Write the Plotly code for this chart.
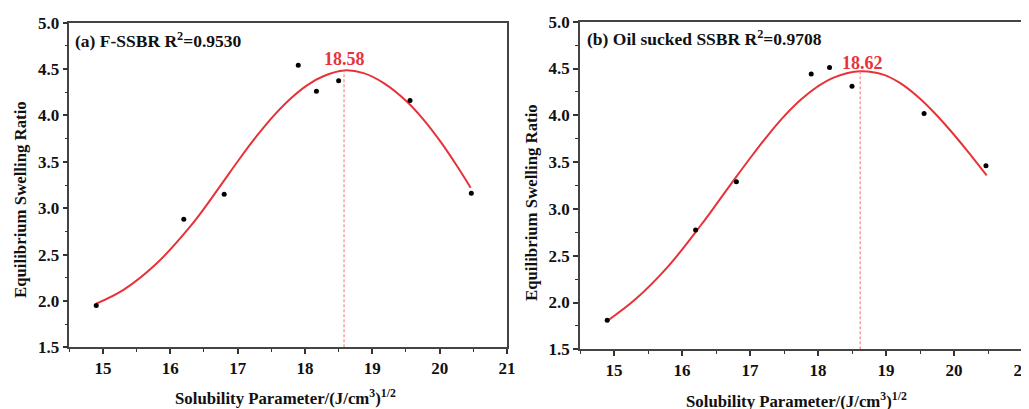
import plotly.graph_objects as go

# ---- data ----
x_pts = [14.90, 16.20, 16.80, 17.90, 18.17, 18.50, 19.56, 20.47]
y_a = [1.95, 2.88, 3.15, 4.54, 4.26, 4.375, 4.16, 3.16]
y_b = [1.81, 2.775, 3.29, 4.44, 4.51, 4.31, 4.02, 3.46]

# fitted curves
fit_a_x = [14.90, 15.31, 15.80, 16.30, 16.55, 16.79, 17.04, 17.29, 17.53, 17.78, 18.03, 18.28,
           18.58, 18.87, 19.17, 19.52, 19.76, 20.01, 20.26, 20.46]
fit_a_y = [1.97, 2.122, 2.406, 2.806, 3.044, 3.289, 3.544, 3.784, 3.993, 4.178, 4.325, 4.425,
           4.485, 4.456, 4.348, 4.145, 3.955, 3.72, 3.452, 3.22]
fit_b_x = [14.92, 15.31, 15.80, 16.28, 16.53, 16.77, 17.02, 17.26, 17.50, 17.75, 17.99, 18.23,
           18.62, 18.97, 19.21, 19.46, 19.70, 19.94, 20.19, 20.48]
fit_b_y = [1.813, 2.031, 2.389, 2.828, 3.075, 3.315, 3.56, 3.784, 3.988, 4.168, 4.305, 4.403,
           4.47, 4.432, 4.343, 4.203, 4.035, 3.843, 3.625, 3.358]

peak_a = 18.58
peak_b = 18.62
peak_a_y = 4.485
peak_b_y = 4.47

x_ticks = [15, 16, 17, 18, 19, 20, 21]
y_ticks = [1.5, 2.0, 2.5, 3.0, 3.5, 4.0, 4.5, 5.0]
y_tick_text = ["1.5", "2.0", "2.5", "3.0", "3.5", "4.0", "4.5", "5.0"]

RED = "#e8323a"
FONT = "Liberation Serif, Times New Roman, DejaVu Serif, serif"

fig = go.Figure()

# panel a
fig.add_trace(go.Scatter(x=fit_a_x, y=fit_a_y, mode="lines", line=dict(color=RED, width=2, shape="spline", smoothing=1.0),
                         xaxis="x", yaxis="y", showlegend=False))
fig.add_trace(go.Scatter(x=[peak_a, peak_a], y=[1.5, peak_a_y], mode="lines",
                         line=dict(color="#f07078", width=1, dash="3px,2px"), xaxis="x", yaxis="y", showlegend=False))
fig.add_trace(go.Scatter(x=x_pts, y=y_a, mode="markers", marker=dict(color="black", size=5),
                         xaxis="x", yaxis="y", showlegend=False))
# panel b
fig.add_trace(go.Scatter(x=fit_b_x, y=fit_b_y, mode="lines", line=dict(color=RED, width=2, shape="spline", smoothing=1.0),
                         xaxis="x2", yaxis="y2", showlegend=False))
fig.add_trace(go.Scatter(x=[peak_b, peak_b], y=[1.5, peak_b_y], mode="lines",
                         line=dict(color="#f07078", width=1, dash="3px,2px"), xaxis="x2", yaxis="y2", showlegend=False))
fig.add_trace(go.Scatter(x=x_pts, y=y_b, mode="markers", marker=dict(color="black", size=5),
                         xaxis="x2", yaxis="y2", showlegend=False))

W, H = 1029, 409
OFF = 8  # page body margin offset


def px(sx):
    return (sx - OFF) / W


def py(sy):
    return (H - (sy - OFF)) / H


def xax(domain, anchor):
    return dict(domain=domain, anchor=anchor, range=[14.5, 21], tickvals=x_ticks, automargin=False,
                ticks="outside", ticklen=5, tickwidth=1.5, tickcolor="#333",
                minor=dict(dtick=0.5, tick0=14.5, ticks="outside", ticklen=3, tickwidth=1.2, tickcolor="#333"),
                showline=True, linecolor="#444", linewidth=1.5, mirror=True,
                showgrid=False, zeroline=False,
                tickfont=dict(family=FONT, size=17, color="#111", weight="bold"))


def yax(domain, anchor):
    return dict(domain=domain, anchor=anchor, range=[1.5, 5.0], tickvals=y_ticks, ticktext=y_tick_text,
                automargin=False,
                ticks="outside", ticklen=5, tickwidth=1.5, tickcolor="#333",
                minor=dict(dtick=0.25, tick0=1.5, ticks="outside", ticklen=3, tickwidth=1.2, tickcolor="#333"),
                showline=True, linecolor="#444", linewidth=1.5, mirror=True,
                showgrid=False, zeroline=False,
                tickfont=dict(family=FONT, size=17, color="#111", weight="bold"))


fig.update_layout(
    width=W, height=H,
    margin=dict(l=0, r=0, t=0, b=0, autoexpand=False),
    paper_bgcolor="white", plot_bgcolor="white",
    xaxis=xax([px(69.3), px(507)], "y"),
    yaxis=yax([py(347.3), py(22.7)], "x"),
    xaxis2=xax([px(580), px(1022)], "y2"),
    yaxis2=yax([py(349.3), py(21.7)], "x2"),
)

lab_font = dict(family=FONT, size=17.5, color="#111", weight="bold")
tit_font = dict(family=FONT, size=16.8, color="#111", weight="bold")
anns = [
    dict(text="(a) F-SSBR R<sup>2</sup>=0.9530", x=px(73), y=py(40), xanchor="left", yanchor="middle", font=lab_font),
    dict(text="(b) Oil sucked SSBR R<sup>2</sup>=0.9708", x=px(585), y=py(38), xanchor="left", yanchor="middle", font=lab_font),
    dict(text="Equilibrium Swelling Ratio", x=px(20), y=py(200), xanchor="center", yanchor="middle", textangle=-90, font=tit_font),
    dict(text="Equilibrium Swelling Ratio", x=px(531), y=py(203), xanchor="center", yanchor="middle", textangle=-90, font=tit_font),
    dict(text="Solubility Parameter/(J/cm<sup>3</sup>)<sup>1/2</sup>", x=px(285), y=py(397), xanchor="center", yanchor="middle", font=tit_font),
    dict(text="Solubility Parameter/(J/cm<sup>3</sup>)<sup>1/2</sup>", x=px(796), y=py(400), xanchor="center", yanchor="middle", font=tit_font),
]
for a in anns:
    fig.add_annotation(xref="paper", yref="paper", showarrow=False, **a)

fig.add_annotation(text="18.58", x=18.59, y=4.605, xref="x", yref="y", showarrow=False,
                   font=dict(family=FONT, size=18, color=RED, weight="bold"), xanchor="center", yanchor="middle")
fig.add_annotation(text="18.62", x=18.65, y=4.556, xref="x2", yref="y2", showarrow=False,
                   font=dict(family=FONT, size=18, color=RED, weight="bold"), xanchor="center", yanchor="middle")

fig.write_html("out.html")
